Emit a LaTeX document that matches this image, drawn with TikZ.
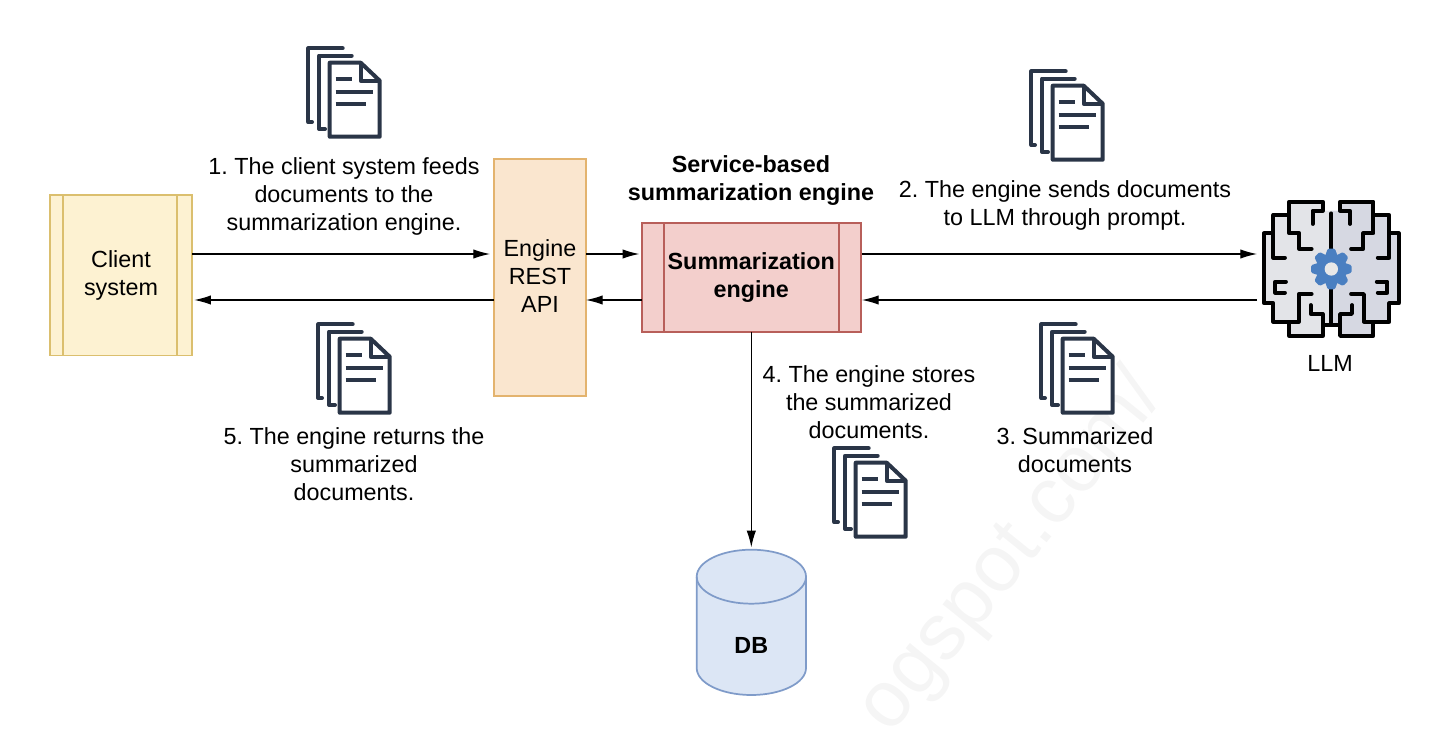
\documentclass[tikz,border=0pt]{standalone}
\usepackage{fontspec}
\setmainfont{Liberation Sans}
\usetikzlibrary{arrows.meta,calc}
\frenchspacing
\definecolor{inkdoc}{HTML}{2A3547}
\definecolor{clientfill}{HTML}{FDF2D2}
\definecolor{clientline}{HTML}{DBBF6E}
\definecolor{apifill}{HTML}{FAE6CF}
\definecolor{apiline}{HTML}{E3B36E}
\definecolor{enginefill}{HTML}{F3CFCC}
\definecolor{engineline}{HTML}{B85F5A}
\definecolor{dbfill}{HTML}{DCE6F5}
\definecolor{dbline}{HTML}{7F9BC9}
\definecolor{gearblue}{HTML}{4A7FC1}
\definecolor{brainL}{HTML}{E3E4E8}
\definecolor{brainR}{HTML}{D6D8E2}
\newcommand{\brainhalf}[1]{%
  \fill[#1] (274,405) -- (248,405) -- (248,438) -- (148,438) -- (148,395) -- (100,395) -- (100,340) -- (72,340) -- (72,130) -- (100,130) -- (100,75) -- (148,75) -- (148,35) -- (248,35) -- (248,62) -- (274,62) -- cycle;
  \draw[brainline] (274,405) -- (248,405) -- (248,438) -- (148,438) -- (148,395) -- (100,395) -- (100,340) -- (72,340) -- (72,130) -- (100,130) -- (100,75) -- (148,75) -- (148,35) -- (248,35) -- (248,62) -- (218,62) -- (218,102);
  \draw[brainline] (148,75) -- (148,130) -- (178,130) -- (178,177) -- (215,177);
  \draw[brainline] (100,130) -- (100,203) -- (135,203);
  \draw[brainline] (138,275) -- (106,275) -- (106,308) -- (135,308);
  \draw[brainline] (215,312) -- (176,312) -- (176,395) -- (148,395);
  \draw[brainline] (212,345) -- (212,372) -- (248,372) -- (248,405);
}
\tikzset{
  lbl/.style={align=center,inner sep=0pt,font=\fontsize{17.5}{21}\selectfont,text=black},
  blbl/.style={lbl,font=\fontsize{17.5}{21}\selectfont\bfseries},
  procbox/.style={draw,line width=1.3pt,inner sep=0pt,outer sep=0pt,align=center,font=\fontsize{17.5}{21}\selectfont},
  link/.style={draw=black,line width=0.85pt,-{Latex[length=12.5pt,width=7pt]}},
  docline/.style={draw=inkdoc,line width=3pt,line join=round},
  brainline/.style={draw=black,line width=2.8pt,line join=round,line cap=round},
  pics/docs/.style={code={
    \draw[docline,line cap=round] (17,82) -- (13.3,82) -- (13.3,8.3) -- (47.7,8.3);
    \draw[docline,line cap=round] (30,89) -- (24,89) -- (24,15.7) -- (56.7,15.7);
    \draw[docline,fill=white] (34.7,22.7) -- (65.7,22.7) -- (84.7,40.7) -- (84.7,96.7) -- (34.7,96.7) -- cycle;
    \draw[docline] (65.7,22.7) -- (65.7,40.7) -- (84.7,40.7);
    \draw[docline] (40.7,39) -- (56.7,39);
    \draw[docline] (40.7,51.7) -- (78.3,51.7);
    \draw[docline] (40.7,64.3) -- (71,64.3);
  }}
}
\begin{document}
\begin{tikzpicture}[x=0.75pt,y=-0.75pt]
\useasboundingbox (0,0) rectangle (1448,730);
\begin{scope}
\clip (0,0) rectangle (1448,730);
\node[rotate=51,text=black!4,font=\fontsize{60}{60}\selectfont,inner sep=0pt] (mark) at (1012,553) {ogspot.com/};
\end{scope}

\coordinate (rowa) at (0,254);
\coordinate (rowb) at (0,300);

% process boxes
\node[procbox,draw=clientline,fill=clientfill,minimum width=106.9pt,minimum height=120.4pt] (client) at (121,275.3) {\raisebox{-1.1pt}{Client}\\\raisebox{-1.1pt}{system}};
\draw[clientline,line width=1.3pt] (63.3,0 |- client.north) -- (63.3,0 |- client.south);
\draw[clientline,line width=1.3pt] (177.3,0 |- client.north) -- (177.3,0 |- client.south);

\node[procbox,draw=apiline,fill=apifill,minimum width=69pt,minimum height=177.75pt] (api) at (540,277.5) {\raisebox{2.2pt}{Engine}\\\raisebox{2.2pt}{REST}\\\raisebox{2.2pt}{API}};

\node[procbox,draw=engineline,fill=enginefill,minimum width=164pt,minimum height=81.75pt,font=\fontsize{17.5}{21}\selectfont\bfseries] (engine) at (751.3,277.2) {Summarization\\engine};
\draw[engineline,line width=1.3pt] (664,0 |- engine.north) -- (664,0 |- engine.south);
\draw[engineline,line width=1.3pt] (838.7,0 |- engine.north) -- (838.7,0 |- engine.south);

% database
\node[minimum width=81.9pt,minimum height=108.75pt,inner sep=0pt,outer sep=0pt] (db) at (751.3,622.5) {};
\draw[dbline,fill=dbfill,line width=1.3pt] (696.7,576.7) -- (696.7,668) arc[start angle=180,end angle=0,x radius=54.65,y radius=27] -- (806,576.7) arc[start angle=0,end angle=-180,x radius=54.65,y radius=27] -- cycle;
\draw[dbline,line width=1.3pt] (696.7,576.7) arc[start angle=180,end angle=0,x radius=54.65,y radius=27];
\node[blbl] (dblabel) at (751.3,645) {DB};

% llm brain
\node[minimum width=111pt,minimum height=105pt,inner sep=0pt,outer sep=0pt] (llm) at (1331,285) {};
\begin{scope}[shift={(1240,190)},x=0.25pt,y=-0.25pt]
  \brainhalf{brainL}
  \begin{scope}[shift={(548,0)},xscale=-1]
    \brainhalf{brainR}
  \end{scope}
  \draw[brainline] (274,70) -- (274,405);
  \foreach \a in {0,45,...,315}
    \fill[gearblue,rounded corners=1pt,rotate around={\a:(274,237)}] (263,176) -- (285,176) -- (295,205) -- (253,205) -- cycle;
  \fill[gearblue] (274,237) circle[radius=46];
  \fill[black!9] (274,237) circle[radius=20];
\end{scope}
\node[lbl] (llmlabel) at (1330,363) {LLM};

% connectors
\draw[link,shorten >=3pt] (client.east |- rowa) -- (api.west |- rowa);
\draw[link,shorten >=1.5pt] (api.west |- rowb) -- (client.east |- rowb);
\draw[link,shorten >=2pt] (api.east |- rowa) -- (engine.west |- rowa);
\draw[link] (engine.west |- rowb) -- (api.east |- rowb);
\draw[link,shorten <=1pt] (engine.east |- rowa) -- (llm.west |- rowa);
\draw[link,shorten >=1pt] (llm.west |- rowb) -- (engine.east |- rowb);
\draw[link,shorten >=2pt] (engine.south) -- (db.north);

% labels
\node[lbl] (t1) at (344,196) {1. The client system feeds\\documents to the\\summarization engine.};
\node[blbl] (title) at (751,181) {Service-based\\summarization engine};
\node[lbl] (t2) at (1065,205) {2. The engine sends documents\\to LLM through prompt.};
\node[lbl] (t5) at (354,464) {5. The engine returns the\\summarized\\documents.};
\node[lbl] (t4) at (869,402) {4. The engine stores\\the summarized\\documents.};
\node[lbl] (t3) at (1075,450) {3. Summarized\\documents};

% document icons
\pic at (295,40) {docs};
\pic at (1018,63) {docs};
\pic at (305,316) {docs};
\pic at (1028,316) {docs};
\pic at (821,440) {docs};
\end{tikzpicture}
\end{document}
